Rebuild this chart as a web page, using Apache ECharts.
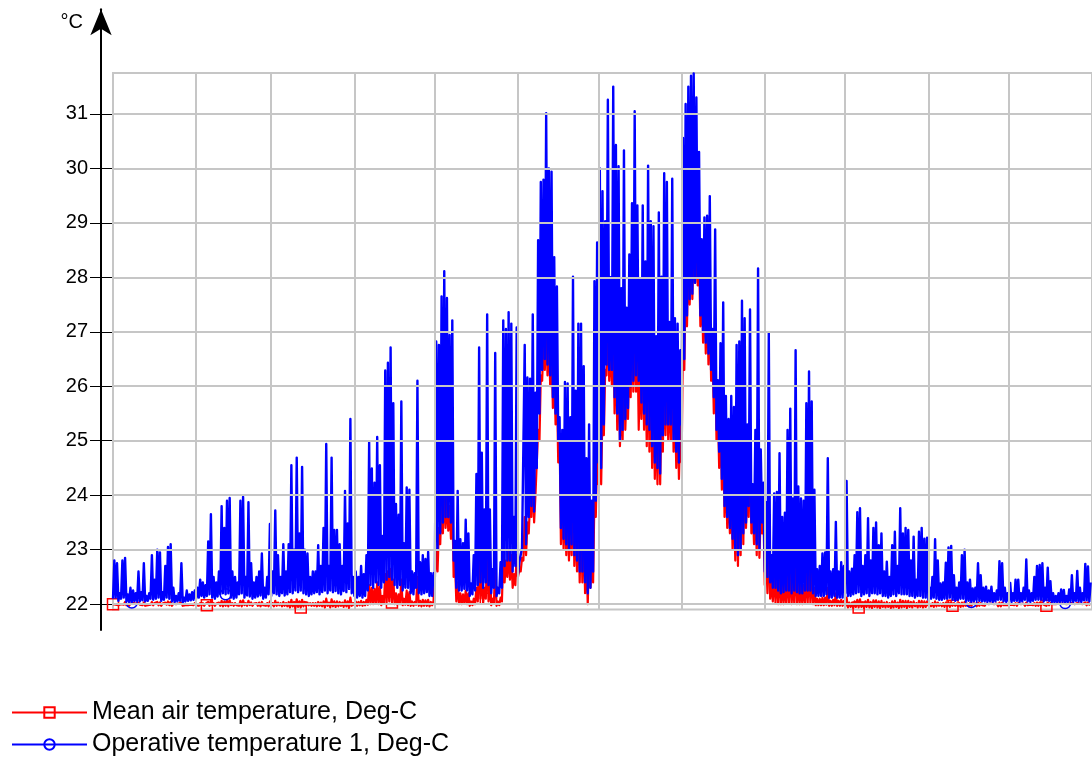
<!DOCTYPE html>
<html>
<head>
<meta charset="utf-8">
<script src="https://cdn.jsdelivr.net/npm/echarts@6/dist/echarts.min.js"></script>
<style>
html,body{margin:0;padding:0;background:#fff;}
#chart{width:1092px;height:758px;}
</style>
</head>
<body>
<div id="chart"></div>
<script>
// ---- data ----
// day of year on which each month starts (x axis, days)
const monthStartDay = [0, 31, 59, 90, 120, 151, 181, 212, 243, 273, 304, 334];
// y tick labels
const yTicks = [22, 23, 24, 25, 26, 27, 28, 29, 30, 31];
const seriesNames = ['Mean air temperature, Deg-C', 'Operative temperature 1, Deg-C'];
// days on which a series marker is visible
const airMarkerDays = [0, 35, 70, 104, 139, 278, 313, 348];
const opMarkerDays = [7, 42, 320, 355];

// Operative temperature 1, Deg-C : two readings per day (night, midday)
const opJan = [22.10,22.80, 22.12,22.75, 22.06,22.20, 22.10,22.80, 22.12,22.85, 22.05,22.18, 22.04,22.30, 22.03,22.25, 22.05,22.20, 22.06,22.60,
  22.05,22.22, 22.07,22.75, 22.05,22.15, 22.06,22.20, 22.10,22.90, 22.08,22.45, 22.10,23.00, 22.12,22.95, 22.06,22.22, 22.08,22.70,
  22.12,23.05, 22.10,23.10, 22.05,22.30, 22.04,22.15, 22.05,22.20, 22.06,22.75, 22.03,22.12, 22.05,22.25, 22.06,22.18, 22.07,22.22,
  22.08,22.25];
const opFeb = [22.10,22.30, 22.12,22.45, 22.15,22.40, 22.12,22.35, 22.15,23.15, 22.18,23.65, 22.12,22.50, 22.10,22.40, 22.14,22.60, 22.18,23.80,
  22.20,23.40, 22.18,23.90, 22.20,23.95, 22.12,22.60, 22.10,22.50, 22.12,22.40, 22.18,23.90, 22.20,23.97, 22.12,22.50, 22.16,23.87,
  22.14,22.75, 22.10,22.40, 22.12,22.50, 22.14,22.60, 22.16,22.93, 22.10,22.30, 22.12,22.50, 22.18,23.47];
const opMar = [22.15,22.60, 22.20,23.72, 22.18,22.90, 22.15,22.50, 22.20,23.10, 22.16,22.60, 22.18,23.10, 22.22,24.55, 22.20,23.00, 22.25,24.69,
  22.22,23.30, 22.25,24.52, 22.20,23.00, 22.18,22.93, 22.15,22.50, 22.18,22.60, 22.20,22.60, 22.22,23.08, 22.18,22.70, 22.22,23.40,
  22.25,24.94, 22.20,22.70, 22.25,24.69, 22.22,23.36, 22.24,23.36, 22.20,23.10, 22.18,22.70, 22.24,24.08, 22.22,23.48, 22.28,25.40,
  22.20,22.50];
const opApr = [22.15,22.60, 22.12,22.50, 22.15,22.70, 22.12,22.55, 22.15,22.90, 22.25,24.97, 22.35,24.49, 22.30,24.23, 22.40,25.07, 22.35,24.55,
  22.30,23.25, 22.40,26.29, 22.45,26.43, 22.50,26.71, 22.45,25.69, 22.35,23.84, 22.30,23.64, 22.35,25.72, 22.25,23.12, 22.30,24.14,
  22.30,24.10, 22.20,22.60, 22.18,22.57, 22.30,26.10, 22.20,22.77, 22.18,22.90, 22.20,22.83, 22.22,22.96, 22.15,22.57, 22.15,22.57];
const opMay = [22.50,26.82, 23.00,26.76, 23.30,27.65, 23.50,28.11, 23.60,27.62, 23.60,26.94, 23.50,27.21, 22.80,23.16, 22.30,24.08, 22.25,23.19,
  22.25,23.12, 22.28,23.55, 22.25,23.30, 22.15,22.38, 22.18,22.90, 22.25,24.39, 22.35,26.71, 22.40,24.78, 22.30,23.74, 22.40,27.32,
  22.35,23.74, 22.20,22.64, 22.30,26.61, 22.15,22.30, 22.20,22.77, 22.30,27.21, 22.70,27.05, 22.80,27.36, 22.80,27.15, 22.60,23.60,
  22.70,27.08];
const opJun = [22.55,22.77, 22.80,23.03, 23.00,26.76, 23.10,26.16, 23.60,26.14, 23.80,27.32, 23.70,25.88, 24.50,28.68, 25.50,29.75, 26.30,29.79,
  26.50,31.01, 26.40,30.00, 26.20,29.94, 25.80,28.37, 25.50,27.83, 25.00,25.43, 23.40,25.20, 23.20,26.08, 23.10,26.05, 23.00,25.43,
  23.10,28.01, 22.90,25.92, 22.80,27.15, 22.60,27.15, 22.60,26.37, 22.40,24.68, 22.20,25.30, 22.30,23.90, 22.60,27.93, 23.90,28.64];
const opJul = [24.60,30.00, 24.50,29.58, 25.30,29.03, 26.40,31.26, 26.30,28.00, 26.30,31.50, 25.80,30.43, 25.50,30.04, 25.00,27.80, 25.20,30.33,
  25.40,27.44, 25.60,28.42, 26.00,29.36, 26.10,31.05, 26.20,29.32, 26.10,27.96, 25.70,29.32, 25.50,28.29, 25.30,30.05, 25.20,29.03,
  24.90,28.94, 24.60,26.92, 24.50,29.19, 24.40,28.01, 25.10,29.91, 25.30,29.75, 25.30,27.18, 25.30,29.81, 25.00,27.25, 24.80,27.15,
  24.60,26.66];
const opAug = [25.30,30.56, 26.50,31.18, 27.30,31.50, 27.60,31.70, 27.70,31.74, 27.90,31.30, 28.00,30.30, 27.30,28.70, 27.00,29.10, 26.80,29.13,
  26.60,29.49, 26.30,27.05, 25.80,28.88, 25.20,26.11, 24.80,26.79, 24.30,27.54, 23.80,25.82, 23.60,25.40, 23.40,25.82, 23.20,25.62,
  23.00,26.76, 22.90,26.82, 23.00,27.57, 23.30,27.25, 23.50,25.30, 23.80,27.41, 23.50,24.20, 23.30,25.20, 23.10,28.16, 23.00,24.84,
  23.50,24.23];
const opSep = [22.60,23.87, 22.50,26.99, 22.40,22.90, 22.30,24.03, 22.30,24.06, 22.25,24.77, 22.20,23.60, 22.22,23.68, 22.25,25.20, 22.25,25.59,
  22.20,23.94, 22.25,26.66, 22.22,24.16, 22.20,23.94, 22.20,23.90, 22.25,25.69, 22.25,26.27, 22.25,25.72, 22.20,24.10, 22.15,22.64,
  22.15,22.70, 22.15,22.93, 22.15,22.95, 22.18,24.68, 22.12,22.60, 22.12,22.64, 22.15,23.51, 22.12,22.60, 22.12,22.77, 22.12,22.70];
const opOct = [22.20,24.26, 22.15,22.60, 22.15,22.65, 22.18,22.90, 22.20,23.69, 22.22,23.76, 22.15,22.70, 22.18,22.90, 22.20,23.58, 22.15,22.80,
  22.20,23.40, 22.20,23.50, 22.18,23.08, 22.20,23.30, 22.15,22.60, 22.15,22.78, 22.12,22.50, 22.15,23.08, 22.18,23.33, 22.15,22.70,
  22.20,23.76, 22.18,23.30, 22.18,23.40, 22.18,23.36, 22.15,22.80, 22.15,23.24, 22.12,22.45, 22.15,23.33, 22.15,23.40, 22.12,23.20,
  22.12,23.22];
const opNov = [22.08,22.30, 22.10,22.50, 22.12,23.19, 22.10,22.80, 22.08,22.38, 22.08,22.40, 22.10,22.76, 22.10,23.04, 22.12,23.07, 22.08,22.53,
  22.06,22.30, 22.08,22.40, 22.10,22.90, 22.10,23.00, 22.06,22.40, 22.06,22.45, 22.04,22.29, 22.05,22.30, 22.08,22.75, 22.06,22.53,
  22.05,22.30, 22.05,22.32, 22.04,22.25, 22.05,22.32, 22.04,22.20, 22.05,22.25, 22.08,22.79, 22.08,22.75, 22.05,22.30, 22.04,22.20];
const opDec = [22.05,22.39, 22.04,22.20, 22.06,22.45, 22.06,22.45, 22.04,22.20, 22.05,22.30, 22.08,22.82, 22.05,22.25, 22.04,22.20, 22.06,22.50,
  22.08,22.70, 22.08,22.72, 22.08,22.75, 22.05,22.30, 22.07,22.67, 22.06,22.42, 22.04,22.20, 22.03,22.15, 22.04,22.20, 22.04,22.27,
  22.04,22.26, 22.02,22.15, 22.04,22.27, 22.06,22.53, 22.04,22.20, 22.06,22.61, 22.05,22.30, 22.04,22.20, 22.07,22.74, 22.07,22.69,
  22.05,22.40];

// Mean air temperature, Deg-C : two readings per day (night, midday)
const airJan = [22.00,22.03, 21.99,22.02, 21.98,22.01, 22.00,22.03, 21.99,22.04, 21.98,22.00, 21.97,22.01, 21.98,22.02, 21.99,22.01, 21.98,22.03,
  21.99,22.01, 21.98,22.03, 21.97,22.00, 21.98,22.01, 21.99,22.04, 21.98,22.02, 21.99,22.04, 21.98,22.03, 21.97,22.01, 21.98,22.03,
  21.99,22.05, 21.98,22.04, 21.97,22.01, 21.98,22.00, 21.98,22.01, 21.99,22.03, 21.97,22.00, 21.98,22.01, 21.98,22.00, 21.99,22.01,
  21.98,22.02];
const airFeb = [21.98,22.01, 21.97,22.02, 21.98,22.02, 21.97,22.01, 21.98,22.04, 21.97,22.06, 21.98,22.02, 21.97,22.01, 21.98,22.03, 21.97,22.06,
  21.96,22.05, 21.97,22.07, 21.96,22.07, 21.98,22.02, 21.97,22.02, 21.98,22.01, 21.97,22.06, 21.96,22.07, 21.98,22.02, 21.97,22.06,
  21.98,22.03, 21.97,22.01, 21.98,22.02, 21.97,22.03, 21.96,22.04, 21.98,22.01, 21.97,22.02, 21.96,22.05];
const airMar = [21.97,22.02, 21.96,22.06, 21.97,22.03, 21.98,22.02, 21.96,22.04, 21.97,22.02, 21.96,22.04, 21.94,22.08, 21.96,22.04, 21.93,22.09,
  21.95,22.05, 21.94,22.08, 21.96,22.04, 21.97,22.03, 21.98,22.02, 21.97,22.02, 21.97,22.02, 21.96,22.04, 21.97,22.03, 21.96,22.05,
  21.94,22.10, 21.97,22.03, 21.94,22.09, 21.96,22.05, 21.95,22.05, 21.96,22.04, 21.97,22.03, 21.95,22.07, 21.96,22.05, 21.93,22.12,
  21.97,22.02];
const airApr = [21.98,22.05, 21.97,22.04, 21.98,22.06, 21.97,22.04, 21.98,22.08, 21.99,22.35, 22.00,22.30, 22.00,22.28, 22.01,22.40, 22.00,22.32,
  21.98,22.15, 22.02,22.55, 22.03,22.60, 22.05,22.65, 22.03,22.45, 22.00,22.20, 21.99,22.18, 22.00,22.45, 21.98,22.10, 21.99,22.25,
  21.98,22.22, 21.97,22.05, 21.97,22.04, 21.99,22.50, 21.97,22.06, 21.96,22.08, 21.97,22.07, 21.97,22.08, 21.96,22.04, 21.98,22.06];
const airMay = [22.05,23.00, 22.60,23.40, 23.10,23.90, 23.30,24.20, 23.40,24.00, 23.35,23.80, 23.20,23.90, 22.50,22.80, 22.05,22.40, 22.00,22.20,
  22.00,22.18, 22.01,22.25, 22.00,22.20, 21.97,22.05, 21.98,22.10, 22.00,22.30, 22.05,22.80, 22.10,22.60, 22.02,22.30, 22.10,23.00,
  22.05,22.40, 21.98,22.10, 22.02,22.70, 21.97,22.05, 21.98,22.12, 22.05,22.90, 22.40,22.80, 22.50,23.00, 22.45,22.90, 22.30,22.55,
  22.35,22.90];
const airJun = [22.50,22.65, 22.60,22.85, 22.80,23.60, 22.90,23.50, 23.30,23.90, 23.60,24.40, 23.50,24.00, 24.00,25.20, 25.00,26.20, 26.10,26.80,
  26.30,27.20, 26.20,27.00, 26.00,26.90, 25.60,26.40, 25.30,26.00, 24.60,25.10, 23.10,24.00, 23.00,24.00, 22.90,23.80, 22.80,23.60,
  22.90,24.20, 22.70,23.60, 22.60,23.80, 22.40,23.60, 22.40,23.50, 22.20,23.00, 22.00,23.00, 22.30,22.90, 22.40,24.00, 23.60,24.80];
const airJul = [24.20,25.80, 24.20,25.60, 25.10,26.30, 26.20,27.40, 26.10,26.80, 26.00,27.50, 25.50,27.00, 25.20,26.80, 24.90,25.80, 25.00,26.80,
  25.20,26.00, 25.40,26.50, 25.80,27.00, 25.90,27.40, 25.90,27.00, 25.20,26.40, 25.40,26.80, 25.20,26.40, 24.90,26.70, 24.80,26.40,
  24.50,26.20, 24.30,25.40, 24.20,26.00, 24.20,25.60, 24.80,26.50, 25.10,26.60, 25.00,25.90, 25.00,26.60, 24.80,25.80, 24.50,25.60,
  24.30,25.30];
const airAug = [24.60,27.00, 26.30,28.00, 27.10,28.50, 27.50,28.70, 27.60,28.80, 27.90,28.60, 27.85,28.40, 27.10,27.90, 26.80,27.90, 26.60,27.80,
  26.40,27.60, 26.10,26.70, 25.50,26.90, 25.00,25.60, 24.50,25.50, 24.10,25.50, 23.60,24.50, 23.40,24.20, 23.30,24.30, 23.00,24.00,
  22.80,24.30, 22.70,24.30, 22.90,24.80, 23.10,24.80, 23.40,24.20, 23.60,25.00, 23.30,23.80, 23.10,24.00, 22.90,25.00, 22.85,23.70,
  23.30,23.70];
const airSep = [22.35,22.90, 22.20,23.50, 22.10,22.40, 22.05,22.60, 22.02,22.60, 22.00,22.70, 22.00,22.40, 22.00,22.40, 22.01,22.60, 22.02,22.70,
  22.00,22.40, 22.02,22.90, 22.00,22.40, 22.00,22.35, 22.00,22.35, 22.02,22.60, 22.02,22.70, 22.02,22.60, 22.00,22.30, 21.98,22.10,
  21.98,22.10, 21.98,22.12, 21.98,22.12, 21.99,22.30, 21.97,22.06, 21.97,22.08, 21.98,22.20, 21.97,22.06, 21.97,22.08, 21.97,22.06];
const airOct = [21.96,22.12, 21.94,22.03, 21.95,22.03, 21.93,22.05, 21.95,22.08, 21.94,22.09, 21.95,22.03, 21.93,22.05, 21.95,22.08, 21.94,22.04,
  21.93,22.07, 21.95,22.07, 21.94,22.05, 21.93,22.06, 21.95,22.03, 21.94,22.04, 21.95,22.02, 21.93,22.05, 21.94,22.06, 21.95,22.03,
  21.93,22.08, 21.94,22.06, 21.95,22.06, 21.93,22.06, 21.95,22.04, 21.94,22.05, 21.96,22.02, 21.94,22.06, 21.95,22.06, 21.94,22.05,
  21.95,22.05];
const airNov = [21.97,22.01, 21.96,22.02, 21.95,22.05, 21.96,22.03, 21.97,22.01, 21.96,22.02, 21.95,22.03, 21.96,22.04, 21.95,22.04, 21.97,22.02,
  21.97,22.01, 21.96,22.02, 21.95,22.03, 21.96,22.04, 21.97,22.01, 21.96,22.02, 21.97,22.01, 21.98,22.01, 21.96,22.03, 21.97,22.02,
  21.98,22.01, 21.97,22.01, 21.98,22.00, 21.97,22.01, 21.98,22.00, 21.97,22.01, 21.96,22.03, 21.96,22.03, 21.98,22.01, 21.98,22.00];
const airDec = [21.98,22.01, 21.99,22.00, 21.98,22.02, 21.97,22.02, 21.99,22.00, 21.98,22.01, 21.97,22.03, 21.98,22.01, 21.99,22.00, 21.98,22.02,
  21.97,22.03, 21.97,22.03, 21.98,22.03, 21.99,22.01, 21.97,22.03, 21.98,22.02, 21.99,22.00, 21.99,22.00, 21.98,22.01, 21.99,22.01,
  21.98,22.01, 21.99,22.00, 21.98,22.01, 21.98,22.02, 21.99,22.00, 21.98,22.02, 21.99,22.01, 21.99,22.00, 21.98,22.03, 21.98,22.03,
  21.99,22.01];

const opMonths = [opJan, opFeb, opMar, opApr, opMay, opJun, opJul, opAug, opSep, opOct, opNov, opDec];
const airMonths = [airJan, airFeb, airMar, airApr, airMay, airJun, airJul, airAug, airSep, airOct, airNov, airDec];

// ---- layout / style ----
const FONT = "'Liberation Sans', Arial, Helvetica, sans-serif";
const Y_MIN = 21.9, Y_MAX = 31.75;
const PLOT = { left: 113, top: 73, width: 980, height: 536.6 };
const pxPerDeg = PLOT.height / (Y_MAX - Y_MIN);
const AXIS_TOP = 9.3, AXIS_BOTTOM = 630;
const axisMin = Y_MIN - (AXIS_BOTTOM - (PLOT.top + PLOT.height)) / pxPerDeg;
const axisMax = Y_MAX + (PLOT.top - AXIS_TOP) / pxPerDeg;
const GRID_COLOR = '#c6c6c6';

function toPoints(months) {
  const pts = [];
  months.forEach((arr, m) => arr.forEach((v, i) => pts.push([monthStartDay[m] + i * 0.5, v])));
  return pts;
}
// data index (two readings per day) at which a marker is drawn
const airMarkers = new Set(airMarkerDays.map(d => d * 2));
const opMarkers = new Set(opMarkerDays.map(d => d * 2));

const chart = echarts.init(document.getElementById('chart'), null, { renderer: 'canvas' });

const gridLineData = monthStartDay.slice(1).map(d => ({ xAxis: d }))
  .concat(yTicks.map(v => ({ yAxis: v })));

function legendAt(name, top) {
  return {
    data: [name], orient: 'vertical', left: 11, top: top, padding: 0,
    itemWidth: 75, itemHeight: 13, itemGap: 0, selectedMode: false,
    textStyle: { fontSize: 25, color: '#000', fontFamily: FONT }
  };
}

chart.setOption({
  animation: false,
  backgroundColor: '#ffffff',
  textStyle: { fontFamily: FONT },
  grid: [
    { left: PLOT.left, top: PLOT.top, width: PLOT.width, height: PLOT.height, show: true,
      borderColor: GRID_COLOR, borderWidth: 2, backgroundColor: 'transparent', containLabel: false },
    { left: 101, top: AXIS_TOP, width: 20, height: AXIS_BOTTOM - AXIS_TOP, show: false, containLabel: false }
  ],
  xAxis: [
    { gridIndex: 0, type: 'value', min: 0, max: 365, show: false },
    { gridIndex: 1, type: 'value', min: 0, max: 1, show: false }
  ],
  yAxis: [
    { gridIndex: 0, type: 'value', min: Y_MIN, max: Y_MAX, show: false },
    { gridIndex: 1, type: 'value', position: 'left', min: axisMin, max: axisMax,
      axisLine: { show: true, lineStyle: { color: '#000', width: 2 }, symbol: ['none', 'arrow'], symbolSize: [16, 26] },
      axisTick: { show: true, customValues: yTicks, length: 11, lineStyle: { color: '#000', width: 1 } },
      axisLabel: { show: true, customValues: yTicks, margin: 13, fontSize: 20, color: '#000', fontFamily: FONT },
      splitLine: { show: false },
      name: '°C', nameLocation: 'end', nameGap: -13,
      nameTextStyle: { fontSize: 20, color: '#000', fontFamily: FONT, align: 'right', verticalAlign: 'middle', padding: [0, 18, 0, 0] }
    },
    { gridIndex: 1, type: 'value', position: 'left', min: axisMin, max: axisMax,
      axisLine: { show: false },
      axisTick: { show: true, inside: true, customValues: yTicks, length: 11, lineStyle: { color: '#000', width: 1 } },
      axisLabel: { show: false },
      splitLine: { show: false }
    }
  ],
  legend: [legendAt(seriesNames[0], 700), legendAt(seriesNames[1], 732)],
  series: [
    { type: 'line', name: 'grid', xAxisIndex: 0, yAxisIndex: 0, data: [], z: 1, silent: true,
      markLine: { silent: true, symbol: ['none', 'none'], animation: false, label: { show: false },
        lineStyle: { color: GRID_COLOR, width: 2, type: 'solid' }, emphasis: { disabled: true },
        data: gridLineData } },
    { type: 'line', name: seriesNames[0], xAxisIndex: 0, yAxisIndex: 0, z: 2,
      data: toPoints(airMonths), showSymbol: true, symbol: 'rect',
      symbolSize: (v, p) => airMarkers.has(p.dataIndex) ? 11 : 0,
      itemStyle: { color: 'rgba(255,255,255,0)', borderColor: '#ff0000', borderWidth: 1.5 },
      lineStyle: { color: '#ff0000', width: 2.2, join: 'round' },
      emphasis: { disabled: true }, silent: true },
    { type: 'line', name: seriesNames[1], xAxisIndex: 0, yAxisIndex: 0, z: 3,
      data: toPoints(opMonths), showSymbol: true, symbol: 'circle',
      symbolSize: (v, p) => opMarkers.has(p.dataIndex) ? 11 : 0,
      itemStyle: { color: 'rgba(255,255,255,0)', borderColor: '#0000ff', borderWidth: 1.5 },
      lineStyle: { color: '#0000ff', width: 2.4, join: 'round' },
      emphasis: { disabled: true }, silent: true }
  ]
});
</script>
</body>
</html>
